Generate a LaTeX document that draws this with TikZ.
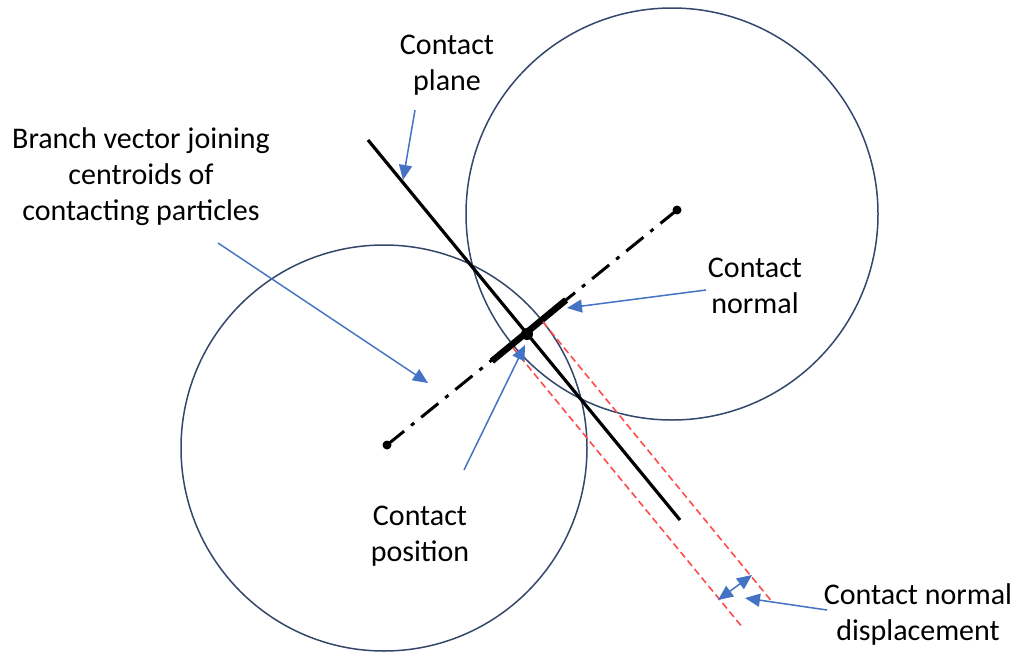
\documentclass[tikz,border=0pt]{standalone}
\usepackage{fontspec}
\setmainfont{Carlito}
\usetikzlibrary{arrows.meta}
\definecolor{Ring}{HTML}{34476B}
\definecolor{Pointer}{HTML}{4472C4}
\definecolor{Offset}{HTML}{FF4B4B}

\begin{document}
\begin{tikzpicture}[x=1pt, y=-1pt, every node/.style={font=\fontsize{30}{36}\selectfont,align=center,inner sep=0pt}, ring/.style={draw=Ring,line width=1.5pt}, arr/.style={-{Triangle[length=15pt,width=13pt]},line width=1.5pt,draw=Pointer,color=Pointer}, offsetline/.style={draw=Offset,line width=1.6pt,dash pattern=on 7pt off 4pt}]
\useasboundingbox (0,0) rectangle (1019,653);
% particles and geometry
\coordinate (g1) at (387,445); \coordinate (g2) at (677,210);
\coordinate (cp) at (527,334);
\coordinate (n1) at (492,361); \coordinate (n2) at (566,300);
\coordinate (p1) at (368,140); \coordinate (p2) at (680,520);
\coordinate (r1a) at (513,348); \coordinate (r1b) at (743,628);
\coordinate (r2a) at (543,322); \coordinate (r2b) at (773,603);
\coordinate (d1) at (718,600); \coordinate (d2) at (752,575);
\draw[ring] (384,448) circle[radius=203pt];
\draw[ring] (672,214) circle[radius=206pt];
\draw[line width=3pt,dash pattern=on 22pt off 9pt on 4pt off 9pt] (g1) -- (g2);
\draw[line width=3.2pt] (p1) -- (p2);
\draw[line width=6.5pt] (n1) -- (n2);
\draw[offsetline] (r1a) -- (r1b);
\draw[offsetline] (r2a) -- (r2b);
\fill (g1) circle[radius=4.5pt]; \fill (g2) circle[radius=4.5pt];
\fill (cp) circle[radius=6pt];
% labels
\node (plane) at (447,65) {Contact\\plane};
\node (branch) at (141,177) {Branch vector joining\\centroids of\\contacting particles};
\node (normal) at (755,286) {Contact\\normal};
\node (position) at (420,536) {Contact\\position};
\node (displ) at (918,614) {Contact normal\\displacement};
% pointers
\coordinate (tplane) at (415,110); \coordinate (hplane) at (403,180);
\coordinate (tbranch) at (218,243); \coordinate (hbranch) at (428,383);
\coordinate (tnormal) at (706,290); \coordinate (hnormal) at (567,308);
\coordinate (tpos) at (464,470); \coordinate (hpos) at (525,345);
\coordinate (tdispl) at (827,610); \coordinate (hdispl) at (745,598);
\draw[arr] (tplane) -- (hplane);
\draw[arr] (tbranch) -- (hbranch);
\draw[arr] (tnormal) -- (hnormal);
\draw[arr] (tpos) -- (hpos);
\draw[arr] (tdispl) -- (hdispl);
\draw[arr,{Triangle[length=15pt,width=13pt]}-{Triangle[length=15pt,width=13pt]}] (d1) -- (d2);
\end{tikzpicture}
\end{document}
